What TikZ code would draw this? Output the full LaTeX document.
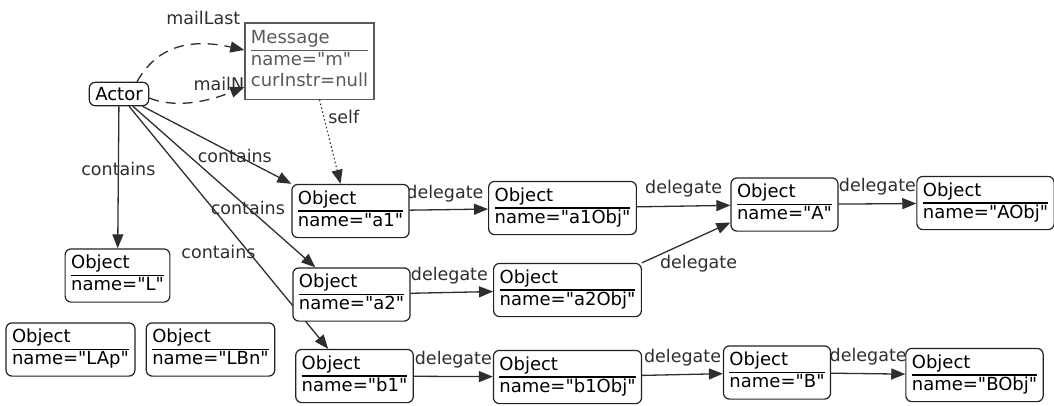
\documentclass[tikz,border=0pt]{standalone}
\usepackage{fontspec}
\setmainfont{DejaVu Sans}[Ligatures=TeXOff]
\usepackage{xcolor}
\usetikzlibrary{arrows.meta,backgrounds}
\definecolor{fg}{HTML}{222222}
\definecolor{edgeclr}{HTML}{2E2E2E}
\definecolor{msgfg}{HTML}{5A5A5A}
\setlength{\arrayrulewidth}{1.2pt}
\newcommand{\objtext}[1]{\begin{tabular}{@{}l@{}}Object\\\hline name="#1"\end{tabular}}
\newcommand{\msgtext}{\begin{tabular}{@{}l@{}}Message\\\hline name="m"\\curInstr=null\end{tabular}}
\tikzset{
  box/.style={draw=fg,line width=1.2pt,fill=white,text=black,inner xsep=6pt,inner ysep=5pt,
    font=\fontsize{18}{21}\selectfont},
  objbox/.style={box,rounded corners=6pt},
  msgbox/.style={box,draw=msgfg,text=msgfg,inner ysep=6pt},
  link/.style={draw=edgeclr,line width=1.3pt,-{Triangle[length=14pt,width=11pt]}},
  mail/.style={link,dash pattern=on 10pt off 7pt},
  selfref/.style={link,line width=1.1pt,dash pattern=on 1.5pt off 2.5pt},
  lbl/.style={text=edgeclr,inner sep=1pt,font=\fontsize{17.5}{21}\selectfont}
}

\begin{document}
\begin{tikzpicture}[x=1pt,y=-1pt]
  \useasboundingbox (0,0) rectangle (1054,405);
  \node[objbox] (actor) at (119,94) {Actor};
  \node[msgbox] (msg) at (309.5,61) {\msgtext};
  \node[objbox] (L) at (117.5,275.5) {\objtext{L}};
  \node[objbox] (LAp) at (70.5,349.5) {\objtext{LAp}};
  \node[objbox] (LBn) at (210.5,349.5) {\objtext{LBn}};
  \node[objbox] (a1) at (350.5,211) {\objtext{a1}};
  \node[objbox] (a1obj) at (562.5,208) {\objtext{a1Obj}};
  \node[objbox] (A) at (784.5,204.5) {\objtext{A}};
  \node[objbox] (Aobj) at (985.5,203) {\objtext{AObj}};
  \node[objbox] (a2) at (351.5,294.5) {\objtext{a2}};
  \node[objbox] (a2obj) at (567.5,290) {\objtext{a2Obj}};
  \node[objbox] (b1) at (354.5,376) {\objtext{b1}};
  \node[objbox] (b1obj) at (567.5,377) {\objtext{b1Obj}};
  \node[objbox] (B) at (777,372.5) {\objtext{B}};
  \node[objbox] (Bobj) at (974.5,375) {\objtext{BObj}};

  \begin{scope}[on background layer]
    \draw[mail] ([xshift=18pt]actor.north) .. controls +(23,-41) and +(-46,-10) .. ([yshift=11pt]msg.west)
      node[lbl,pos=0.6,xshift=10pt,yshift=27pt] {mailLast};
    \draw[mail] ([yshift=-4pt]actor.east) .. controls +(30,12) and +(-30,12) .. ([yshift=-26pt]msg.west)
      node[lbl,pos=0.45,anchor=south west,yshift=10pt] {mailNext};
    \draw[selfref] ([xshift=10pt]msg.south) -- ([xshift=-10pt]a1.north)
      node[lbl,pos=0.2,right=3pt] {self};
    \draw[link] (actor) -- (L) node[lbl,pos=0.44] {contains};
    \draw[link] (actor) -- (a1.north west) node[lbl,pos=0.62,yshift=-2pt] {contains};
    \draw[link] (actor) -- ([xshift=23pt]a2.north west) node[lbl,pos=0.63] {contains};
    \draw[link] (actor) -- ([xshift=33pt]b1.north west) node[lbl,pos=0.6,xshift=-30pt] {contains};
    \draw[link] (a1) -- (a1obj) node[lbl,pos=0.45,above=6pt] {delegate};
    \draw[link] (a1obj) -- (A) node[lbl,pos=0.5,above=7pt] {delegate};
    \draw[link] (A) -- (Aobj) node[lbl,pos=0.5,above=7pt] {delegate};
    \draw[link] (a2) -- (a2obj) node[lbl,pos=0.47,above=7pt] {delegate};
    \draw[link] (a2obj.north east) -- ([yshift=-18pt]A.west) node[lbl,pos=0.64,yshift=-27pt] {delegate};
    \draw[link] (b1) -- (b1obj) node[lbl,pos=0.5,above=7pt] {delegate};
    \draw[link] (b1obj) -- (B) node[lbl,pos=0.5,above=7pt] {delegate};
    \draw[link] (B) -- (Bobj) node[lbl,pos=0.5,above=7pt] {delegate};
  \end{scope}
\end{tikzpicture}
\end{document}
